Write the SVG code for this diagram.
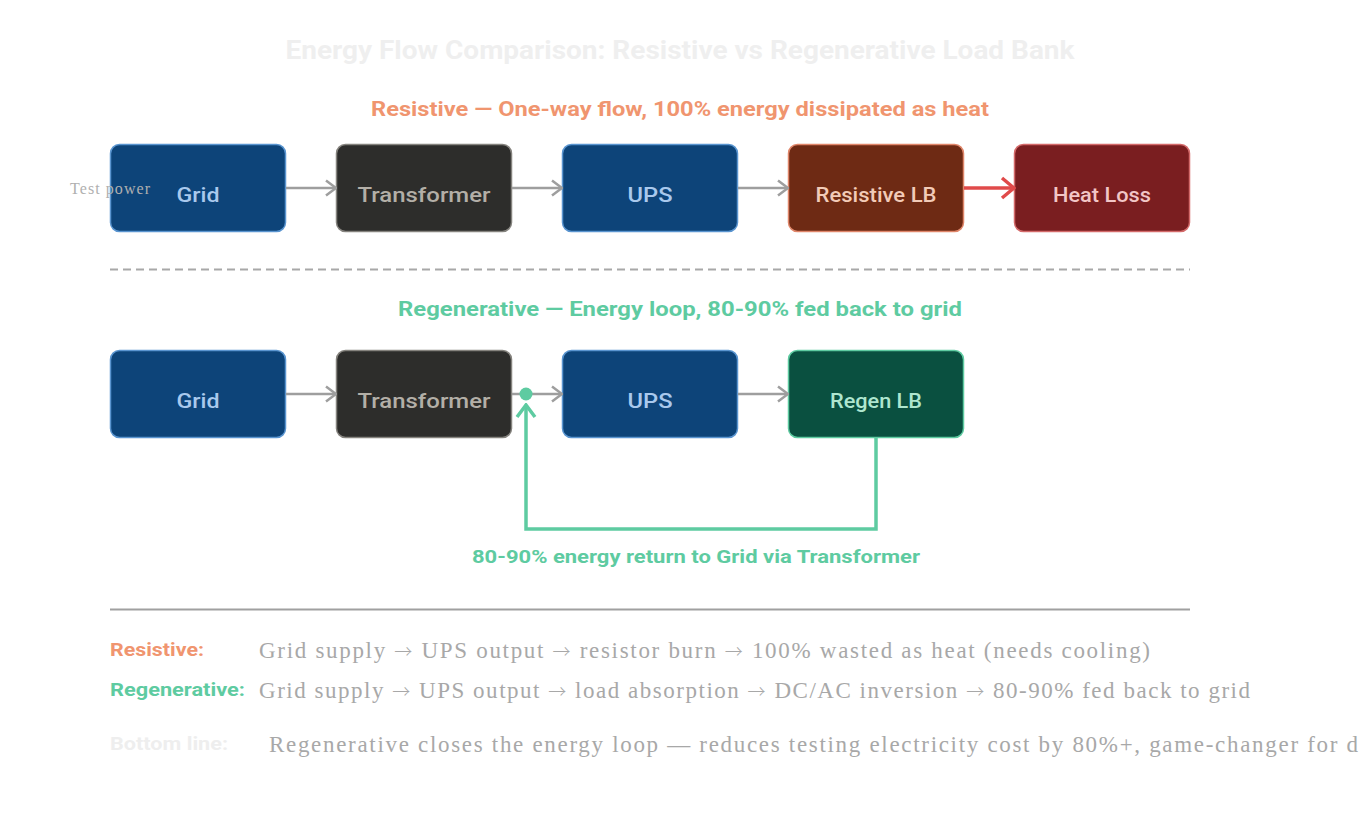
<svg xmlns="http://www.w3.org/2000/svg" width="1360" height="840" viewBox="0 0 1360 840">
<defs>
<style>
.h{font-family:Roboto,"Liberation Sans",sans-serif;font-weight:700;text-anchor:middle}
.nl{font-family:Roboto,"Liberation Sans",sans-serif;font-weight:500;font-size:21px;text-anchor:middle}
.m{font-family:"Liberation Serif","DejaVu Serif",serif;font-size:23px;fill:#a8a8a8}
.ar{font-family:"Noto Sans CJK JP","DejaVu Sans",sans-serif;font-size:18px;font-weight:300}
.lab{font-family:Roboto,"Liberation Sans",sans-serif;font-weight:700;font-size:19px}
.box{stroke-width:1.5}
.blue{fill:#0d4479;stroke:#5a95d0}
.blue-t{fill:#a9c9ed}
.dark{fill:#2d2d2b;stroke:#85837e}
.dark-t{fill:#b3afa7}
.gc{stroke:#9e9e9e;stroke-width:2.5;fill:none}
</style>
<marker id="ag" markerUnits="userSpaceOnUse" viewBox="0 0 12 18" refX="11" refY="9" markerWidth="12" markerHeight="18" orient="auto">
<path d="M1,1.5 L11,9 L1,16.5" fill="none" stroke="#9e9e9e" stroke-width="2.5"/>
</marker>
<marker id="ar" markerUnits="userSpaceOnUse" viewBox="0 0 16 24" refX="14" refY="12" markerWidth="16" markerHeight="24" orient="auto">
<path d="M2,2 L14,12 L2,22" fill="none" stroke="#e04a4a" stroke-width="3.5"/>
</marker>
<marker id="agr" markerUnits="userSpaceOnUse" viewBox="0 0 16 22" refX="14" refY="11" markerWidth="16" markerHeight="22" orient="auto">
<path d="M2,2 L14,11 L2,20" fill="none" stroke="#5ecba1" stroke-width="3.5"/>
</marker>
</defs>
<rect width="1360" height="840" fill="#ffffff"/>

<text class="h" x="680" y="59" font-size="25" fill="#efefef" textLength="789" lengthAdjust="spacingAndGlyphs">Energy Flow Comparison: Resistive vs Regenerative Load Bank</text>
<text class="h" x="680" y="116" font-size="21" fill="#f0956f" textLength="618" lengthAdjust="spacingAndGlyphs">Resistive — One-way flow, 100% energy dissipated as heat</text>

<g id="r1-grid"><rect class="box blue" x="110.5" y="144.5" width="175" height="87" rx="9"/><text class="nl blue-t" x="198" y="202" textLength="43" lengthAdjust="spacingAndGlyphs">Grid</text></g>
<g id="r1-transformer"><rect class="box dark" x="336.5" y="144.5" width="175" height="87" rx="9"/><text class="nl dark-t" x="424" y="202" textLength="133" lengthAdjust="spacingAndGlyphs">Transformer</text></g>
<g id="r1-ups"><rect class="box blue" x="562.5" y="144.5" width="175" height="87" rx="9"/><text class="nl blue-t" x="650" y="202" textLength="45" lengthAdjust="spacingAndGlyphs">UPS</text></g>
<g id="r1-resistive"><rect class="box" x="788.5" y="144.5" width="175" height="87" rx="9" fill="#6e2a14" stroke="#e0866a"/><text class="nl" x="876" y="202" fill="#f2cbb8" textLength="121" lengthAdjust="spacingAndGlyphs">Resistive LB</text></g>
<g id="r1-heat"><rect class="box" x="1014.5" y="144.5" width="175" height="87" rx="9" fill="#7a1e20" stroke="#d46a6a"/><text class="nl" x="1102" y="202" fill="#f2c6c6" textLength="98" lengthAdjust="spacingAndGlyphs">Heat Loss</text></g>

<text x="70" y="194" font-family="'Liberation Serif','DejaVu Serif',serif" font-size="16" fill="#b0b0b0" textLength="80" lengthAdjust="spacing">Test power</text>

<line x1="110" y1="269.5" x2="1190" y2="269.5" stroke="#a8a8a8" stroke-width="2" stroke-dasharray="8,5"/>

<text class="h" x="680" y="316" font-size="21" fill="#5ecba1" textLength="564" lengthAdjust="spacingAndGlyphs">Regenerative — Energy loop, 80-90% fed back to grid</text>

<g id="r2-grid"><rect class="box blue" x="110.5" y="350.5" width="175" height="87" rx="9"/><text class="nl blue-t" x="198" y="408" textLength="43" lengthAdjust="spacingAndGlyphs">Grid</text></g>
<g id="r2-transformer"><rect class="box dark" x="336.5" y="350.5" width="175" height="87" rx="9"/><text class="nl dark-t" x="424" y="408" textLength="133" lengthAdjust="spacingAndGlyphs">Transformer</text></g>
<g id="r2-ups"><rect class="box blue" x="562.5" y="350.5" width="175" height="87" rx="9"/><text class="nl blue-t" x="650" y="408" textLength="45" lengthAdjust="spacingAndGlyphs">UPS</text></g>
<g id="r2-regen"><rect class="box" x="788.5" y="350.5" width="175" height="87" rx="9" fill="#0a5040" stroke="#5ecba1"/><text class="nl" x="876" y="408" fill="#aee6cf" textLength="92" lengthAdjust="spacingAndGlyphs">Regen LB</text></g>

<g id="connectors">
<line class="gc" x1="286" y1="188" x2="336" y2="188" marker-end="url(#ag)"/>
<line class="gc" x1="512" y1="188" x2="562" y2="188" marker-end="url(#ag)"/>
<line class="gc" x1="738" y1="188" x2="788" y2="188" marker-end="url(#ag)"/>
<line x1="964" y1="188" x2="1014" y2="188" stroke="#e04a4a" stroke-width="3.5" marker-end="url(#ar)"/>
<line class="gc" x1="286" y1="394" x2="336" y2="394" marker-end="url(#ag)"/>
<line class="gc" x1="512" y1="394" x2="562" y2="394" marker-end="url(#ag)"/>
<line class="gc" x1="738" y1="394" x2="788" y2="394" marker-end="url(#ag)"/>
<path d="M876,437 L876,529 L526,529 L526,405" fill="none" stroke="#5ecba1" stroke-width="3.5" marker-end="url(#agr)"/>
<circle cx="526" cy="394" r="6.5" fill="#5ecba1"/>
</g>

<text class="h" x="696" y="563" font-size="19" fill="#5ecba1" textLength="448" lengthAdjust="spacingAndGlyphs">80-90% energy return to Grid via Transformer</text>

<line x1="110" y1="609.5" x2="1190" y2="609.5" stroke="#a0a0a0" stroke-width="2"/>

<text class="lab" x="110" y="656" fill="#f0956f" textLength="94" lengthAdjust="spacingAndGlyphs">Resistive:</text>
<text class="m" x="259" y="658" textLength="891" lengthAdjust="spacing">Grid supply <tspan class="ar">→</tspan> UPS output <tspan class="ar">→</tspan> resistor burn <tspan class="ar">→</tspan> 100% wasted as heat (needs cooling)</text>
<text class="lab" x="110" y="696" fill="#5ecba1" textLength="135" lengthAdjust="spacingAndGlyphs">Regenerative:</text>
<text class="m" x="259" y="698" textLength="991" lengthAdjust="spacing">Grid supply <tspan class="ar">→</tspan> UPS output <tspan class="ar">→</tspan> load absorption <tspan class="ar">→</tspan> DC/AC inversion <tspan class="ar">→</tspan> 80-90% fed back to grid</text>
<text class="lab" x="110" y="750" fill="#eeeeee" textLength="118" lengthAdjust="spacingAndGlyphs">Bottom line:</text>
<text class="m" x="269" y="752" fill="#b0b0b0" textLength="1089" lengthAdjust="spacing">Regenerative closes the energy loop — reduces testing electricity cost by 80%+, game-changer for d</text>
</svg>
